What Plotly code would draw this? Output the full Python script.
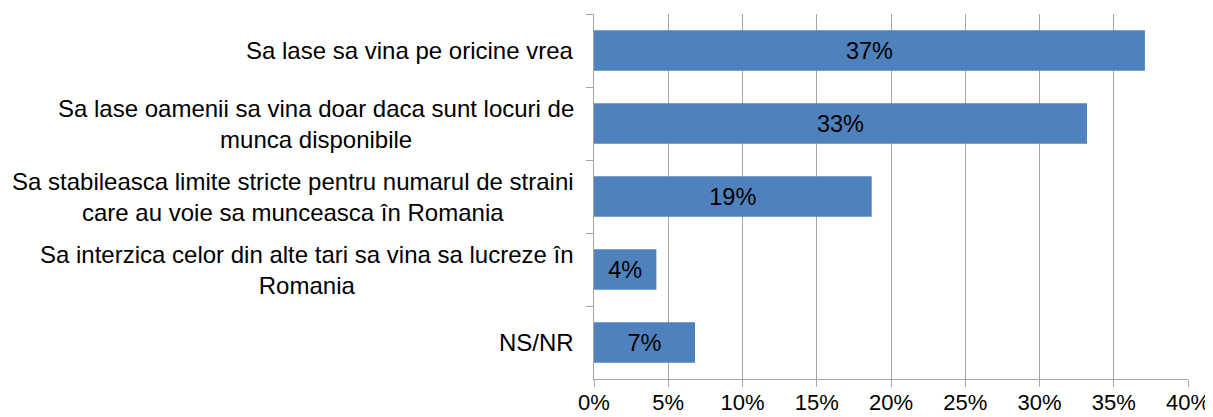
import plotly.graph_objects as go

categories = [
    "Sa lase sa vina pe oricine vrea",
    "Sa lase oamenii sa vina doar daca sunt locuri de<br>munca disponibile",
    "Sa stabileasca limite stricte pentru numarul de straini<br>care au voie sa munceasca în Romania",
    "Sa interzica celor din alte tari sa vina sa lucreze în<br>Romania",
    "NS/NR",
]
values = [0.371, 0.332, 0.187, 0.042, 0.068]
tick_vals = [0, 0.05, 0.10, 0.15, 0.20, 0.25, 0.30, 0.35, 0.40]

FONT = "Liberation Sans, Arial, sans-serif"
GRID = "#a6a6a6"

fig = go.Figure(
    go.Bar(
        y=categories,
        x=values,
        orientation="h",
        marker=dict(color="#4F81BD", line=dict(width=0)),
        width=0.556,
        texttemplate="%{x:.0%}",
        textposition="inside",
        insidetextanchor="middle",
        textfont=dict(family=FONT, size=23.5, color="black"),
        hoverinfo="skip",
    )
)

annotations = []
for c in categories:
    annotations.append(
        dict(
            x=0, xref="paper", y=c, yref="y",
            text=c, showarrow=False, xanchor="right", yanchor="middle",
            align="center", xshift=-18,
            font=dict(family=FONT, size=24, color="black"),
        )
    )

# page body has an 8px default margin, so the figure is sized to fit the window
fig.update_layout(
    width=1205, height=409,
    margin=dict(l=586, r=25, t=6, b=38),
    paper_bgcolor="white", plot_bgcolor="white",
    showlegend=False,
    annotations=annotations,
    font=dict(family=FONT, size=22, color="black"),
    uniformtext=dict(minsize=8, mode="show"),
)
fig.update_xaxes(
    range=[0, 0.40], tickvals=tick_vals, tickformat=".0%",
    showgrid=True, gridcolor=GRID, gridwidth=1,
    showline=True, linecolor=GRID, linewidth=1,
    ticks="outside", ticklen=7, tickcolor=GRID,
    ticklabelstandoff=-3,
    tickfont=dict(family=FONT, size=22, color="black"),
    zeroline=False, fixedrange=True, automargin=False,
)
fig.update_yaxes(
    autorange="reversed", showticklabels=False,
    showline=True, linecolor=GRID, linewidth=1,
    ticks="outside", ticklen=7, tickcolor=GRID, tickson="boundaries",
    showgrid=False, fixedrange=True, automargin=False,
)

fig.write_html("out.html")
